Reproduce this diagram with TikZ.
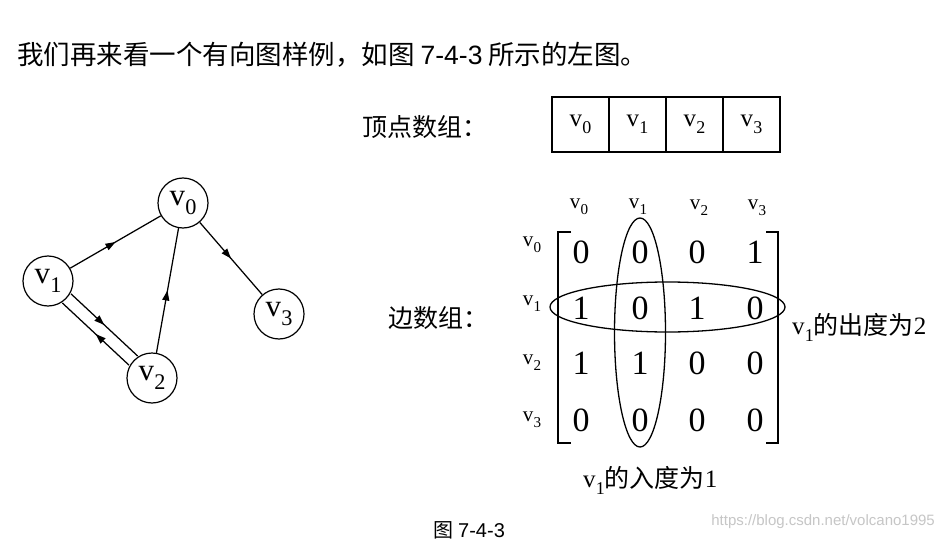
\documentclass[tikz,border=0pt]{standalone}
\usepackage{fontspec}
\usepackage{graphicx}
\setmainfont{Liberation Serif}
\newfontfamily\cjk{Noto Sans CJK SC}
\newfontfamily\lsans{Liberation Sans}
\usetikzlibrary{arrows.meta,decorations.markings,shapes.geometric}
\newcommand\vv[1]{v\kern0.01em\raisebox{-0.28em}{\scalebox{0.72}{#1}}}
\tikzset{
 vert/.style={circle,draw,line width=1.2pt,minimum size=50pt,inner sep=0pt,font=\fontsize{31}{31}\selectfont},
 diedge/.style={line width=1.25pt,postaction={decorate},decoration={markings,mark=at position #1 with {\arrow{Triangle[length=10pt,width=7pt]}}}},
 diedge/.default=0.5,
 cell/.style={rectangle,draw,line width=1.4pt,minimum width=57pt,minimum height=55pt,inner sep=0pt,font=\fontsize{25}{25}\selectfont},
 hdr/.style={font=\fontsize{21}{21}\selectfont,inner sep=0pt},
 ent/.style={font=\fontsize{34}{34}\selectfont,inner sep=0pt},
 cjktext/.style={font=\fontsize{25}{25}\selectfont,inner sep=0pt,anchor=west},
 ring/.style={ellipse,draw,line width=1.3pt,inner sep=0pt},
 brk/.style={line width=1.9pt},
}
\begin{document}
\begin{tikzpicture}[x=1pt,y=-1pt]
\useasboundingbox (0,0) rectangle (944,540);
\fill[white] (0,0) rectangle (944,540);

% top sentence
\node[cjktext,font=\fontsize{26.5}{26.5}\selectfont] (intro) at (17,55) {\cjk 我们再来看一个有向图样例，如图 {\lsans 7-4-3} 所示的左图。};

% graph
\node[vert] (v0) at (183,203) {\vv{0}};
\node[vert] (v1) at (48,281) {\vv{1}};
\node[vert] (v2) at (152,378) {\vv{2}};
\node[vert] (v3) at (279,314) {\vv{3}};
\draw[diedge] (v1) -- (v0);
\draw[diedge] (v0) -- (v3);
\draw[diedge] (v2) -- (v0);
\draw[diedge,transform canvas={shift={(4.3,-4.6)}}] (v1) -- (v2);
\draw[diedge,transform canvas={shift={(-4.3,4.6)}}] (v2) -- (v1);

% vertex array
\node[cjktext] (lab1) at (362,127) {\cjk 顶点数组：};
\node[cell] (c0) at (580.5,124.5) {\vv{0}};
\node[cell] (c1) at (637.5,124.5) {\vv{1}};
\node[cell] (c2) at (694.5,124.5) {\vv{2}};
\node[cell] (c3) at (751.5,124.5) {\vv{3}};

% edge array
\node[cjktext] (lab2) at (388,318) {\cjk 边数组：};
\node[hdr] (h0) at (579,207) {\vv{0}};
\node[hdr] (h1) at (638,207) {\vv{1}};
\node[hdr] (h2) at (699,208) {\vv{2}};
\node[hdr] (h3) at (757,208) {\vv{3}};
\node[hdr] (r0) at (532,245) {\vv{0}};
\node[hdr] (r1) at (532,304) {\vv{1}};
\node[hdr] (r2) at (532,363) {\vv{2}};
\node[hdr] (r3) at (532,420) {\vv{3}};

\node[ent] (m00) at (581,252) {0};
\node[ent] (m01) at (640,252) {0};
\node[ent] (m02) at (697,252) {0};
\node[ent] (m03) at (755,252) {1};
\node[ent] (m10) at (581,308) {1};
\node[ent] (m11) at (640,308) {0};
\node[ent] (m12) at (697,308) {1};
\node[ent] (m13) at (755,308) {0};
\node[ent] (m20) at (581,363) {1};
\node[ent] (m21) at (640,363) {1};
\node[ent] (m22) at (697,363) {0};
\node[ent] (m23) at (755,363) {0};
\node[ent] (m30) at (581,420) {0};
\node[ent] (m31) at (640,420) {0};
\node[ent] (m32) at (697,420) {0};
\node[ent] (m33) at (755,420) {0};

\draw[brk] (571,232) -- (558,232) -- (558,443) -- (571,443);
\draw[brk] (766,232) -- (778,232) -- (778,443) -- (766,443);

\node[ring,minimum width=51pt,minimum height=229pt] (colring) at (640,332.5) {};
\node[ring,minimum width=235pt,minimum height=50pt] (rowring) at (667.5,307) {};

\node[cjktext] (outdeg) at (792,327) {\vv{1}{\cjk 的出度为}2};
\node[cjktext] (indeg) at (583,480) {\vv{1}{\cjk 的入度为}1};

% caption
\node[cjktext,font=\fontsize{20}{20}\selectfont] (cap) at (433,530) {{\cjk 图} {\lsans 7-4-3}};
\node[anchor=east,inner sep=0pt,text=gray!45,font=\lsans\fontsize{15}{15}\selectfont] (wm) at (935,522) {https://blog.csdn.net/volcano1995};
\end{tikzpicture}
\end{document}
